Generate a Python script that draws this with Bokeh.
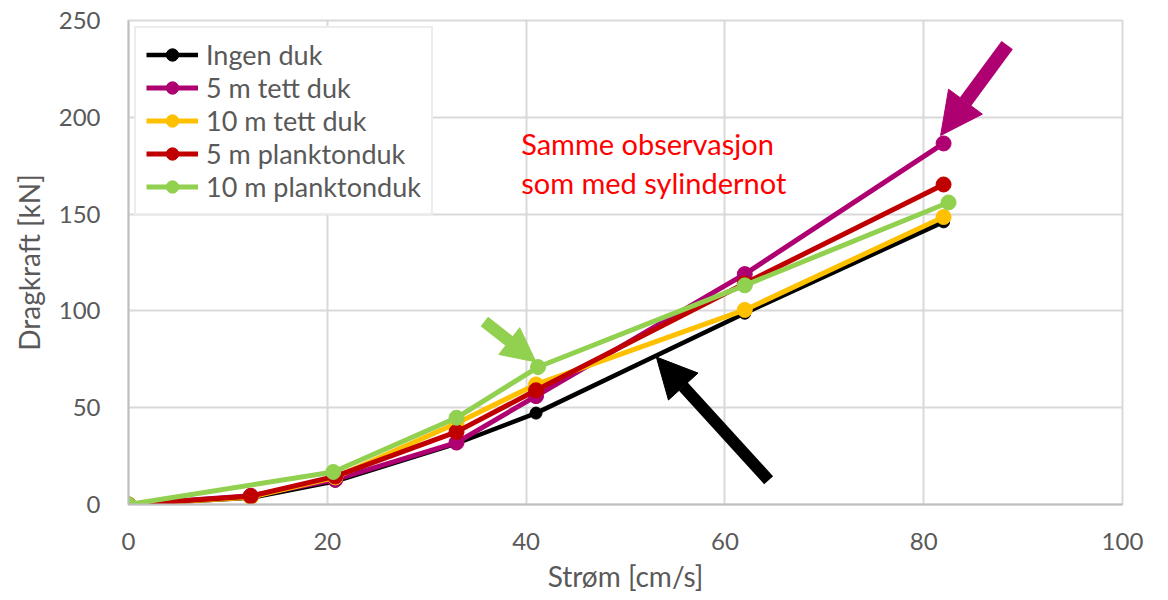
from bokeh.plotting import figure
from bokeh.models import Range1d, FixedTicker, Legend, LegendItem, Arrow, NormalHead, ColumnDataSource
from bokeh.core.properties import value
from bokeh.embed import file_html
from bokeh.resources import INLINE

# ---- data ----
x_common = [0, 12.3, 20.8, 33.0, 41.0, 62.0, 82.0]
ingen_duk = [0, 3.5, 12, 31.5, 47.2, 98.8, 146]
tett5 = [0, 4.5, 12.8, 32.0, 56.0, 119.0, 186.5]
tett10 = [0, 3.8, 14.0, 42.0, 62.0, 100.5, 148.5]
plankton5 = [0, 4.3, 14.5, 37.5, 59.0, 114.2, 165.3]
x_plankton10 = [0, 20.6, 33.0, 41.2, 62.0, 82.5]
plankton10 = [0, 16.8, 44.8, 71.0, 113.2, 156.0]

series_names = ["Ingen duk", "5 m tett duk", "10 m tett duk", "5 m planktonduk", "10 m planktonduk"]
series_colors = ["#000000", "#AE0070", "#FFC000", "#C00000", "#92D050"]

x_ticks = [0, 20, 40, 60, 80, 100]
y_ticks = [0, 50, 100, 150, 200, 250]

note_lines = ["Samme observasjon", "som med sylindernot"]

FONT = "Lato"
GREY = "#595959"

p = figure(frame_width=994, frame_height=484, output_backend="svg", toolbar_location=None,
           x_range=Range1d(0, 100), y_range=Range1d(0, 250),
           min_border_left=128, min_border_right=30, min_border_top=20, min_border_bottom=76)
p.background_fill_color = "white"
p.border_fill_color = "white"
p.outline_line_color = "#d9d9d9"
p.outline_line_width = 2

for ax, ticks in ((p.xaxis[0], x_ticks), (p.yaxis[0], y_ticks)):
    ax.ticker = FixedTicker(ticks=ticks)
    ax.major_tick_line_color = None
    ax.minor_tick_line_color = None
    ax.axis_line_color = "#bfbfbf"
    ax.axis_line_width = 2
    ax.major_label_text_font = FONT
    ax.major_label_text_font_size = "24px"
    ax.major_label_text_color = GREY
    ax.axis_label_text_font = FONT
    ax.axis_label_text_font_size = "28px"
    ax.axis_label_text_color = GREY
    ax.axis_label_text_font_style = "normal"

p.xaxis.axis_label = "Strøm [cm/s]"
p.yaxis.axis_label = "Dragkraft [kN]"
p.xaxis.major_label_standoff = 22
p.yaxis.major_label_standoff = 22
p.xaxis.axis_label_standoff = 6
p.yaxis.axis_label_standoff = 10

p.xgrid.grid_line_color = "#d9d9d9"
p.ygrid.grid_line_color = "#d9d9d9"
p.xgrid.grid_line_width = 2
p.ygrid.grid_line_width = 2

xs_list = [x_common, x_common, x_common, x_common, x_plankton10]
ys_list = [ingen_duk, tett5, tett10, plankton5, plankton10]
items = []
for name, color, xs, ys in zip(series_names, series_colors, xs_list, ys_list):
    lw = 4.5 if color == "#000000" else 5
    ms = 12 if color == "#000000" else 15
    src = ColumnDataSource(dict(x=xs, y=ys))
    r1 = p.line("x", "y", source=src, line_color=color, line_width=lw)
    r2 = p.scatter("x", "y", source=src, size=ms, fill_color=color, line_color=color)
    items.append(LegendItem(label=name, renderers=[r1, r2]))

legend = Legend(items=items, location="top_left", margin=6,
                label_text_font=FONT, label_text_font_size="27px", label_text_color=GREY,
                glyph_width=52, glyph_height=31, label_height=31, spacing=0, padding=10,
                label_standoff=8,
                border_line_color="#d9d9d9", border_line_width=2,
                background_fill_color="white", background_fill_alpha=1)
p.add_layout(legend)

# ---- annotations ----
arrows = [
    # (x_start, y_start, x_end, y_end, color, width, head)
    (88.4, 237.3, 81.7, 190.6, "#AE0070", 14, 42),
    (35.8, 94.5, 41.0, 73.6, "#92D050", 12, 34),
    (64.4, 12.5, 53.1, 76.2, "#000000", 12, 40),
]
for xs0, ys0, xe, ye, c, w, hs in arrows:
    p.add_layout(Arrow(x_start=xs0, y_start=ys0, x_end=xe, y_end=ye,
                       line_color=c, line_width=w,
                       end=NormalHead(size=hs, fill_color=c, line_color=c, line_width=1)))

p.text(x=[39.5, 39.5], y=[186.7, 166.5], text=note_lines,
       text_font=value(FONT), text_font_size="29px", text_color="#FF0000",
       text_baseline="middle", text_align="left")

open("out.html", "w").write(file_html(p, INLINE))
